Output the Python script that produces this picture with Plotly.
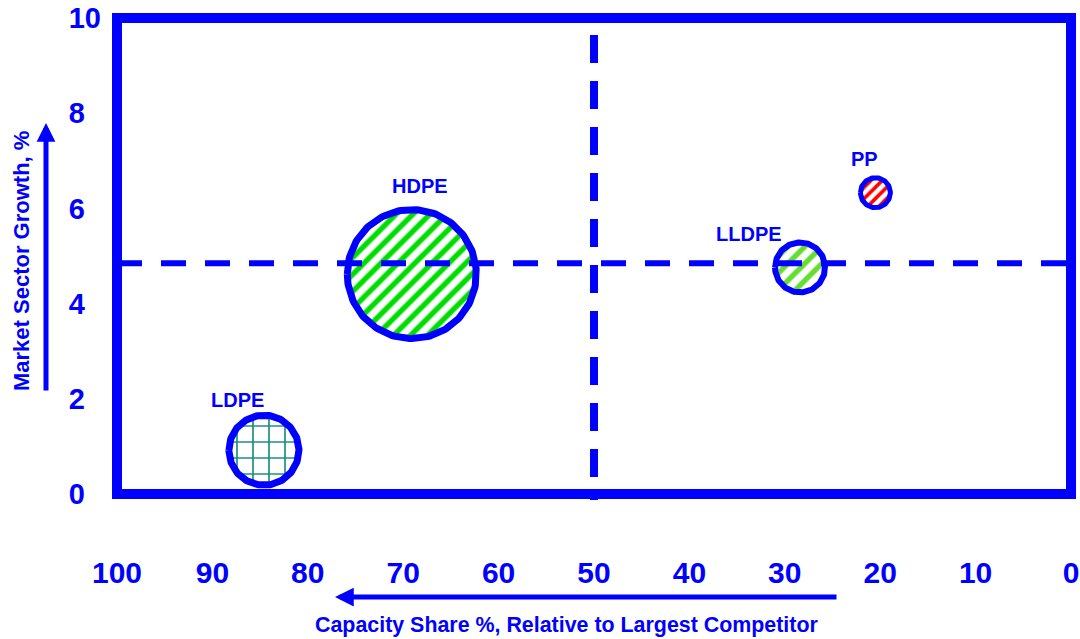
import numpy as np
import plotly.graph_objects as go

# ---------------- data ----------------
products = ["LDPE", "HDPE", "LLDPE", "PP"]
capacity_share = [84.6, 69.1, 28.4, 20.5]      # % relative to largest competitor
market_growth = [0.92, 4.62, 4.76, 6.33]        # market sector growth, %
bubble_size = [70, 129, 50, 30]                 # bubble diameter (px)

x_tick_values = [100, 90, 80, 70, 60, 50, 40, 30, 20, 10, 0]
y_tick_values = [0, 2, 4, 6, 8, 10]
share_threshold = 50
growth_threshold = 4.85

x_title = "Capacity Share %, Relative to Largest Competitor"
y_title = "Market Sector Growth, %"

# ---------------- layout geometry ----------------
W, H = 1080, 639
ML, MR, MT, MB = 117, 9, 18, 145
PW, PH = W - ML - MR, H - MT - MB
X_RANGE = [100, 0]
Y_RANGE = [0, 10]
ppx = PW / abs(X_RANGE[0] - X_RANGE[1])
ppy = PH / abs(Y_RANGE[1] - Y_RANGE[0])

BLUE = "#0000FF"
FONT = "Liberation Sans, Arial, sans-serif"

styles = {
    "LDPE": dict(shape="+", fg="#1F8F80", size=16, solidity=0.2, lw=7, dx=-26, dy=50),
    "HDPE": dict(shape="/", fg="#00DD00", size=12, solidity=0.45, lw=7, dx=8, dy=88),
    "LLDPE": dict(shape="/", fg="#66DD33", size=12, solidity=0.45, lw=6, dx=-51, dy=33),
    "PP": dict(shape="/", fg="#FF0000", size=8, solidity=0.45, lw=5, dx=-11, dy=34),
}

fig = go.Figure()
theta = np.linspace(0, 2 * np.pi, 181)
annotations = []
for name, cx, cy, d in zip(products, capacity_share, market_growth, bubble_size):
    st = styles[name]
    r = d / 2
    xs = cx + r * np.cos(theta) / ppx
    ys = cy + r * np.sin(theta) / ppy
    fig.add_trace(go.Scatter(
        x=xs, y=ys, mode="lines", fill="toself",
        fillcolor="white",
        fillpattern=dict(shape=st["shape"], fgcolor=st["fg"], bgcolor="white",
                         size=st["size"], solidity=st["solidity"], fillmode="replace"),
        line=dict(color=BLUE, width=st["lw"]),
        hoverinfo="skip", showlegend=False, name=name,
    ))
    annotations.append(dict(
        x=cx, y=cy, xref="x", yref="y", text=f"<b>{name}</b>", showarrow=False,
        xanchor="center", yanchor="middle",
        xshift=st["dx"], yshift=st["dy"],
        font=dict(family=FONT, size=20, color=BLUE),
    ))

# axis titles and arrows
def px_to_paper(px, py):
    return (px - ML) / PW, (H - MB - py) / PH

tx, ty = px_to_paper(566, 625)
annotations.append(dict(x=tx, y=ty, xref="paper", yref="paper", text=f"<b>{x_title}</b>",
                        xanchor="center", yanchor="middle",
                        showarrow=False, font=dict(family=FONT, size=21.4, color=BLUE)))
tx, ty = px_to_paper(21, 261)
annotations.append(dict(x=tx, y=ty, xref="paper", yref="paper", text=f"<b>{y_title}</b>",
                        xanchor="center", yanchor="middle",
                        textangle=-90, showarrow=False,
                        font=dict(family=FONT, size=22, color=BLUE)))
ax_tip = px_to_paper(335, 597)
annotations.append(dict(x=ax_tip[0], y=ax_tip[1], xref="paper", yref="paper", text="",
                        showarrow=True, ax=503, ay=0, axref="pixel", ayref="pixel",
                        arrowhead=2, arrowsize=0.75, arrowwidth=5, arrowcolor=BLUE))
ay_tip = px_to_paper(46, 123)
annotations.append(dict(x=ay_tip[0], y=ay_tip[1], xref="paper", yref="paper", text="",
                        showarrow=True, ax=0, ay=269, axref="pixel", ayref="pixel",
                        arrowhead=2, arrowsize=0.75, arrowwidth=5, arrowcolor=BLUE))

v_top = px_to_paper(0, 35)[1]
v_bot = px_to_paper(0, 500)[1]
shapes = [
    # quadrant dividers
    dict(type="line", xref="x", yref="paper", x0=share_threshold, x1=share_threshold,
         y0=v_top, y1=v_bot, line=dict(color=BLUE, width=8, dash="28px,18px"), layer="above"),
    dict(type="line", xref="paper", yref="y", x0=0, x1=1, y0=growth_threshold, y1=growth_threshold,
         line=dict(color=BLUE, width=6, dash="25px,19px"), layer="above"),
    # frame
    dict(type="rect", xref="paper", yref="paper", x0=0, x1=1, y0=0, y1=1,
         line=dict(color=BLUE, width=10), layer="above"),
]

nb = "\u00a0"
y_tick_text = [f"{v}" if v >= 10 else f"{v}{nb}{nb}" for v in y_tick_values]

fig.update_layout(
    width=W, height=H,
    margin=dict(l=ML, r=MR, t=MT, b=MB, autoexpand=False),
    paper_bgcolor="white", plot_bgcolor="white",
    showlegend=False,
    xaxis=dict(range=X_RANGE, tickvals=x_tick_values, ticktext=[str(v) for v in x_tick_values],
               showgrid=False, zeroline=False, showline=False, ticks="",
               ticklabelstandoff=58, automargin=False,
               tickfont=dict(family=FONT, size=30, color=BLUE, weight="bold")),
    yaxis=dict(range=Y_RANGE, tickvals=y_tick_values, ticktext=y_tick_text,
               showgrid=False, zeroline=False, showline=False, ticks="",
               ticklabelstandoff=15, automargin=False,
               tickfont=dict(family=FONT, size=29, color=BLUE, weight="bold")),
    shapes=shapes,
    annotations=annotations,
)

fig.write_html("out.html")
